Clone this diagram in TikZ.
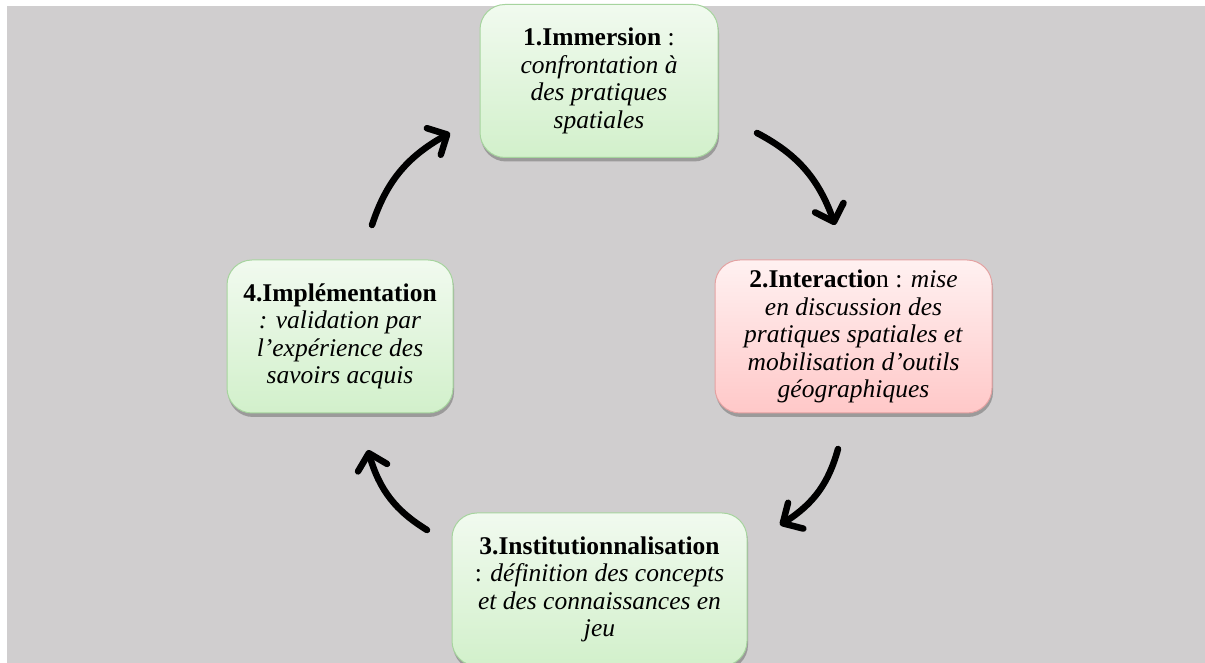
\documentclass[tikz,border=0pt]{standalone}
\usepackage{fontspec}
\setmainfont{Liberation Serif}
\usepackage{xcolor}
\usepackage{tikz}
\usetikzlibrary{arrows.meta}
\usetikzlibrary{shadows,bending}

\definecolor{fond}{RGB}{208,206,207}
\definecolor{verthaut}{RGB}{241,250,239}
\definecolor{vertbas}{RGB}{210,240,203}
\definecolor{vertbord}{RGB}{166,212,158}
\definecolor{rosehaut}{RGB}{255,241,241}
\definecolor{rosebas}{RGB}{255,200,200}
\definecolor{rosebord}{RGB}{228,162,162}

\begin{document}
\begin{tikzpicture}[x=1pt, y=1pt,
    etape/.style={rounded corners=25pt, line width=1pt, align=center,
        minimum height=153pt, inner sep=0pt,
        font=\fontsize{25.5}{27.5}\selectfont,
        drop shadow={shadow xshift=1pt, shadow yshift=-4pt, opacity=0.4, fill=black!70}},
    vert/.style={etape, draw=vertbord, top color=verthaut, bottom color=vertbas},
    rose/.style={etape, draw=rosebord, top color=rosehaut, bottom color=rosebas},
    fleche/.style={line width=6.5pt, line cap=round,
        -{Straight Barb[round, length=15pt, width=30pt]}, bend left=22}]

            \useasboundingbox (0,0) rectangle (1205,663);
            \fill[white] (0,0) rectangle (1205,663);
            \fill[fond] (7,0) rectangle (1205,657);

            \draw (599,582) node[vert, minimum width=238pt] (imm) {\textbf{1.Immersion} :\\ \textit{confrontation à}\\ \textit{des pratiques}\\ \textit{spatiales}};
            \draw (853.5,326.5) node[rose, minimum width=277pt] (inter) {\textbf{2.Interactio}n : \textit{mise}\\ \textit{en discussion des}\\ \textit{pratiques spatiales et}\\ \textit{mobilisation d'outils}\\ \textit{géographiques}};
            \draw (599.5,73.5) node[vert, minimum width=295pt] (inst) {\textbf{3.Institutionnalisation}\\ : \textit{définition des concepts}\\ \textit{et des connaissances en}\\ \textit{jeu}};
            \draw (340,326.5) node[vert, minimum width=226pt] (impl) {\textbf{4.Implémentation}\\ \textit{: validation par}\\ \textit{l'expérience des}\\ \textit{savoirs acquis}};

            \coordinate (d1) at (757,530);
            \coordinate (f1) at (835,438);
            \coordinate (d2) at (838,214);
            \coordinate (f2) at (780,138);
            \coordinate (d3) at (427,133);
            \coordinate (f3) at (368,213);
            \coordinate (d4) at (372,438);
            \coordinate (f4) at (450,530);

            \draw[fleche] (d1) to (f1);
            \draw[fleche] (d2) to (f2);
            \draw[fleche] (d3) to (f3);
            \draw[fleche] (d4) to (f4);

\end{tikzpicture}
\end{document}
